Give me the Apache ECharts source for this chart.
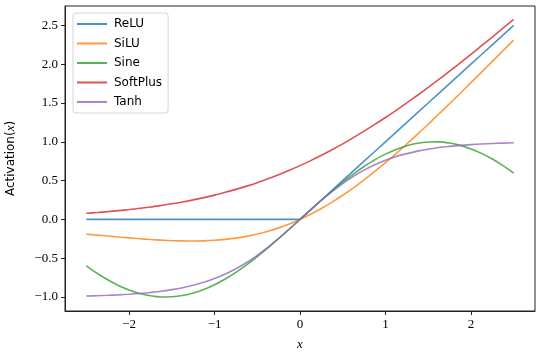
<!DOCTYPE html>
<html>
<head>
<meta charset="utf-8">
<script src="https://cdn.jsdelivr.net/npm/echarts@6/dist/echarts.min.js"></script>
<style>
  html, body { margin: 0; padding: 0; background: #fff; }
  #main_chart { width: 540px; height: 356px; }
</style>
</head>
<body>
<div id="main_chart"></div>
<script>
// sample points along x, step 0.125
var xs = [-2.5, -2.375, -2.25, -2.125, -2, -1.875, -1.75, -1.625, -1.5, -1.375, -1.25,
          -1.125, -1, -0.875, -0.75, -0.625, -0.5, -0.375, -0.25, -0.125, 0,
          0.125, 0.25, 0.375, 0.5, 0.625, 0.75, 0.875, 1, 1.125, 1.25,
          1.375, 1.5, 1.625, 1.75, 1.875, 2, 2.125, 2.25, 2.375, 2.5];
var relu = [0, 0, 0, 0, 0, 0, 0, 0, 0, 0, 0,
            0, 0, 0, 0, 0, 0, 0, 0, 0, 0,
            0.125, 0.25, 0.375, 0.5, 0.625, 0.75, 0.875, 1, 1.125, 1.25,
            1.375, 1.5, 1.625, 1.75, 1.875, 2, 2.125, 2.25, 2.375, 2.5];
var silu = [-0.190, -0.202, -0.214, -0.227, -0.238, -0.249, -0.259, -0.267, -0.274, -0.277, -0.278,
            -0.276, -0.269, -0.257, -0.241, -0.218, -0.189, -0.153, -0.109, -0.059, 0,
            0.066, 0.141, 0.222, 0.311, 0.407, 0.509, 0.618, 0.731, 0.849, 0.972,
            1.098, 1.226, 1.358, 1.491, 1.626, 1.762, 1.898, 2.036, 2.173, 2.310];
var sine = [-0.598, -0.694, -0.778, -0.851, -0.909, -0.954, -0.984, -0.999, -0.997, -0.981, -0.949,
            -0.902, -0.841, -0.768, -0.682, -0.585, -0.479, -0.366, -0.247, -0.125, 0,
            0.125, 0.247, 0.366, 0.479, 0.585, 0.682, 0.768, 0.841, 0.902, 0.949,
            0.981, 0.997, 0.999, 0.984, 0.954, 0.909, 0.851, 0.778, 0.694, 0.598];
var softplus = [0.079, 0.089, 0.100, 0.113, 0.127, 0.143, 0.160, 0.180, 0.201, 0.225, 0.252,
                0.281, 0.313, 0.349, 0.387, 0.429, 0.474, 0.523, 0.576, 0.633, 0.693,
                0.758, 0.826, 0.898, 0.974, 1.054, 1.137, 1.224, 1.313, 1.406, 1.502,
                1.600, 1.701, 1.805, 1.910, 2.018, 2.127, 2.238, 2.350, 2.464, 2.579];
var tanh = [-0.987, -0.983, -0.978, -0.972, -0.964, -0.954, -0.941, -0.926, -0.905, -0.880, -0.848,
            -0.810, -0.762, -0.704, -0.635, -0.555, -0.462, -0.358, -0.245, -0.124, 0,
            0.124, 0.245, 0.358, 0.462, 0.555, 0.635, 0.704, 0.762, 0.810, 0.848,
            0.880, 0.905, 0.926, 0.941, 0.954, 0.964, 0.972, 0.978, 0.983, 0.987];

var seriesNames = ['ReLU', 'SiLU', 'Sine', 'SoftPlus', 'Tanh'];
var seriesData = [relu, silu, sine, softplus, tanh];
var colors = ['#1f77b4', '#ff7f0e', '#2ca02c', '#d62728', '#9467bd'];

var xTicks = [-2, -1, 0, 1, 2];
var yTicks = [-1.0, -0.5, 0.0, 0.5, 1.0, 1.5, 2.0, 2.5];

var serifFont = '"Liberation Serif", "DejaVu Serif", serif';
var sansFont = '"DejaVu Sans", "Noto Sans", sans-serif';

function minus(s) { return s.replace('-', '\u2212'); }

var mychart = echarts.init(document.getElementById('main_chart'));

var series = seriesNames.map(function (name, k) {
    return {
        name: name,
        type: 'line',
        showSymbol: false,
        symbol: 'none',
        smooth: k === 0 ? false : 0.3,
        lineStyle: { width: 1.6, color: colors[k], opacity: 0.8 },
        itemStyle: { color: colors[k], opacity: 0.8 },
        data: xs.map(function (x, i) { return [x, seriesData[k][i]]; })
    };
});

var option = {
    animation: false,
    backgroundColor: '#fff',
    grid: {
        left: 65, right: 5, top: 6, bottom: 45,
        outerBoundsMode: 'none',
        show: true, borderColor: '#222', borderWidth: 1, backgroundColor: 'transparent'
    },
    legend: {
        orient: 'vertical',
        left: 73, top: 13,
        data: seriesNames.map(function (n, k) {
            return { name: n, itemStyle: { color: colors[k], opacity: 0.8 } };
        }),
        icon: 'rect',
        itemWidth: 30, itemHeight: 2,
        itemGap: 5.5,
        padding: [4, 6, 4, 4],
        backgroundColor: '#fff',
        borderColor: '#d4d4d4', borderWidth: 1, borderRadius: 3,
        textStyle: { fontFamily: sansFont, fontSize: 12, color: '#000', lineHeight: 14, padding: [0, 0, 0, 2] }
    },
    xAxis: {
        type: 'value',
        min: -2.75, max: 2.75,
        name: 'x',
        nameLocation: 'middle',
        nameGap: 27,
        nameTextStyle: { fontFamily: serifFont, fontStyle: 'italic', fontSize: 13, color: '#000' },
        splitLine: { show: false },
        axisLine: { show: true, onZero: false, lineStyle: { color: '#222', width: 1 } },
        axisTick: { show: true, length: 4, lineStyle: { color: '#222' }, customValues: xTicks },
        axisLabel: {
            fontFamily: serifFont, fontSize: 13, color: '#000', margin: 7,
            customValues: xTicks,
            formatter: function (v) { return minus(String(v)); }
        }
    },
    yAxis: {
        type: 'value',
        min: -1.18, max: 2.75,
        name: 'Activation({i|x})',
        nameLocation: 'middle',
        nameGap: 48,
        nameRotate: 90,
        nameTextStyle: {
            fontFamily: sansFont, fontSize: 12, color: '#000',
            rich: { i: { fontFamily: serifFont, fontStyle: 'italic', fontSize: 13, color: '#000' } }
        },
        splitLine: { show: false },
        axisLine: { show: true, onZero: false, lineStyle: { color: '#222', width: 1 } },
        axisTick: { show: true, length: 4, lineStyle: { color: '#222' }, customValues: yTicks },
        axisLabel: {
            fontFamily: serifFont, fontSize: 13, color: '#000', margin: 7,
            customValues: yTicks,
            formatter: function (v) { return minus(v.toFixed(1)); }
        }
    },
    series: series
};

mychart.setOption(option);
</script>
</body>
</html>
